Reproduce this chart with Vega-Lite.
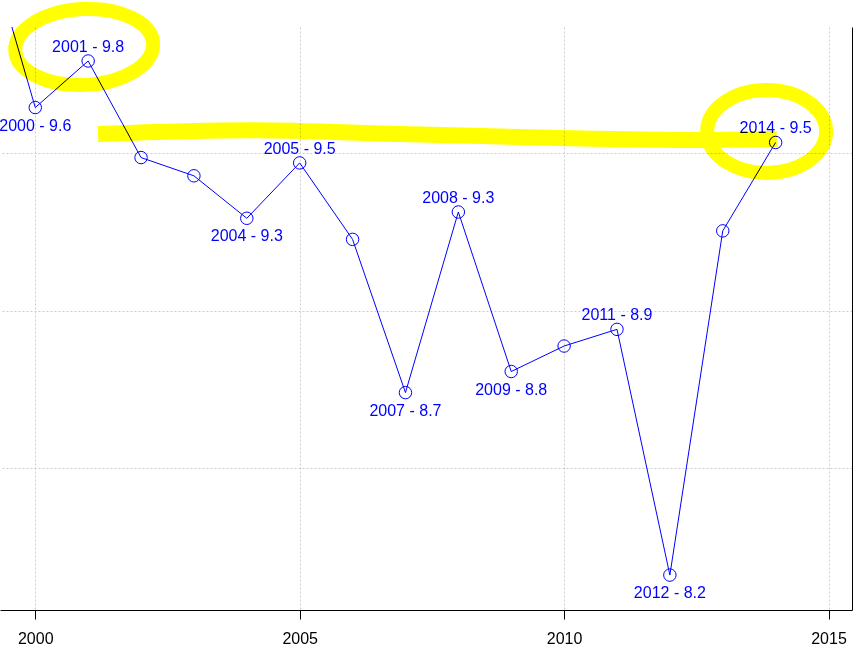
{
  "$schema": "https://vega.github.io/schema/vega-lite/v6.json",
  "width": 852,
  "height": 583,
  "autosize": {"type": "none"},
  "padding": {"left": 0, "top": 27, "right": 6, "bottom": 50},
  "background": "white",
  "config": {
    "view": {"stroke": null},
    "font": "Liberation Sans",
    "axis": {"gridColor": "#cccccc", "gridDash": [2, 2], "gridWidth": 1}
  },
  "datasets": {
    "series": [
      {"year": 1999, "value": 10.225, "label": ""},
      {"year": 2000, "value": 9.646, "label": "2000 - 9.6"},
      {"year": 2001, "value": 9.794, "label": "2001 - 9.8"},
      {"year": 2002, "value": 9.487, "label": ""},
      {"year": 2003, "value": 9.429, "label": ""},
      {"year": 2004, "value": 9.294, "label": "2004 - 9.3"},
      {"year": 2005, "value": 9.470, "label": "2005 - 9.5"},
      {"year": 2006, "value": 9.227, "label": ""},
      {"year": 2007, "value": 8.740, "label": "2007 - 8.7"},
      {"year": 2008, "value": 9.314, "label": "2008 - 9.3"},
      {"year": 2009, "value": 8.807, "label": "2009 - 8.8"},
      {"year": 2010, "value": 8.888, "label": ""},
      {"year": 2011, "value": 8.941, "label": "2011 - 8.9"},
      {"year": 2012, "value": 8.160, "label": "2012 - 8.2"},
      {"year": 2013, "value": 9.254, "label": ""},
      {"year": 2014, "value": 9.535, "label": "2014 - 9.5"}
    ],
    "stroke": [
      {"year": 2001.186, "value": 9.562},
      {"year": 2004.059, "value": 9.574},
      {"year": 2006.894, "value": 9.562},
      {"year": 2009.730, "value": 9.550},
      {"year": 2012.566, "value": 9.543},
      {"year": 2014.022, "value": 9.547}
    ]
  },
  "data": {"name": "series"},
  "encoding": {
    "x": {
      "field": "year", "type": "quantitative",
      "scale": {"domain": [1999.333, 2015.444], "nice": false, "zero": false},
      "axis": {
        "title": null, "values": [2000, 2005, 2010, 2015], "format": "d",
        "grid": true, "domainColor": "black", "tickColor": "black", "tickSize": 9,
        "labelFontSize": 16, "labelColor": "black", "labelPadding": 11,
        "labelFont": "Liberation Sans"
      }
    },
    "y": {
      "field": "value", "type": "quantitative",
      "scale": {"domain": [8.049, 9.902], "nice": false, "zero": false},
      "axis": {
        "orient": "right", "title": null, "values": [8.5, 9, 9.5],
        "labels": false, "ticks": false, "grid": true, "domainColor": "black"
      }
    }
  },
  "layer": [
    {"mark": {"type": "line", "color": "#0000ff", "strokeWidth": 1, "clip": true}},
    {"mark": {"type": "point", "shape": "circle", "size": 155, "filled": false, "color": "#0000ff", "strokeWidth": 1, "opacity": 1, "clip": true}},
    {
      "transform": [{"filter": {"field": "year", "oneOf": [2001, 2005, 2008, 2011, 2014]}}],
      "mark": {"type": "text", "color": "#0000ff", "fontSize": 16, "font": "Liberation Sans", "align": "center", "baseline": "alphabetic", "dy": -9},
      "encoding": {"text": {"field": "label"}}
    },
    {
      "transform": [{"filter": {"field": "year", "oneOf": [2000, 2004, 2007, 2009, 2012]}}],
      "mark": {"type": "text", "color": "#0000ff", "fontSize": 16, "font": "Liberation Sans", "align": "center", "baseline": "alphabetic", "dy": 23},
      "encoding": {"text": {"field": "label"}}
    },
    {
      "data": {"name": "stroke"},
      "mark": {"type": "line", "color": "#ffff00", "strokeWidth": 16, "strokeCap": "butt", "interpolate": "monotone", "blend": "multiply", "clip": false}
    },
    {
      "transform": [{"filter": {"field": "year", "equal": 2001}}],
      "mark": {"type": "point", "shape": "M -1 0 A 1 0.55 0 1 1 1 0 A 1 0.55 0 1 1 -1 0 Z", "size": 19044, "filled": false, "color": "#ffff00", "strokeWidth": 14, "angle": -3, "xOffset": -4, "yOffset": -14, "opacity": 1, "blend": "multiply", "clip": false}
    },
    {
      "transform": [{"filter": {"field": "year", "equal": 2014}}],
      "mark": {"type": "point", "shape": "M -1 0 A 1 0.697 0 1 1 1 0 A 1 0.697 0 1 1 -1 0 Z", "size": 14161, "filled": false, "color": "#ffff00", "strokeWidth": 14, "xOffset": -9, "yOffset": -11, "opacity": 1, "blend": "multiply", "clip": false}
    }
  ]
}
